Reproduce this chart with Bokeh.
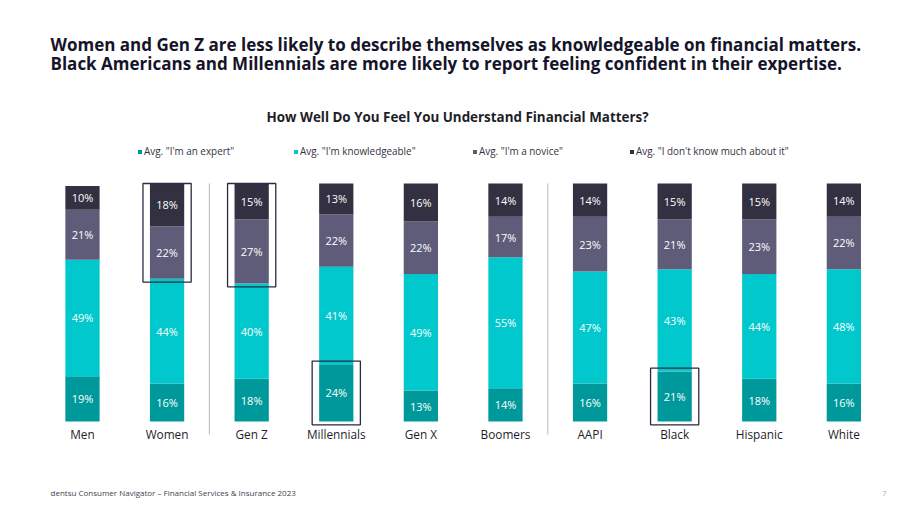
import numpy as np
from bokeh.plotting import figure
from bokeh.models import ColumnDataSource, Range1d, Label, Legend, LegendItem
from bokeh.core.properties import value
from bokeh.embed import file_html
from bokeh.resources import INLINE

# ---- data -------------------------------------------------------------
categories = ["Men", "Women", "Gen Z", "Millennials", "Gen X", "Boomers",
              "AAPI", "Black", "Hispanic", "White"]
expert = [19, 16, 18, 24, 13, 14, 16, 21, 18, 16]
knowledgeable = [49, 44, 40, 41, 49, 55, 47, 43, 44, 48]
novice = [21, 22, 27, 22, 22, 17, 23, 21, 23, 22]
dont_know = [10, 18, 15, 13, 16, 14, 14, 15, 15, 14]

series_names = ['Avg. "I\'m an expert"', 'Avg. "I\'m knowledgeable"',
                'Avg. "I\'m a novice"', 'Avg. "I don\'t know much about it"']
series_keys = ["expert", "knowledgeable", "novice", "dont_know"]
colors = ["#00999B", "#00C8CD", "#5E5C79", "#323041"]

# group dividers sit after these category positions
group_breaks = [1, 5]

# highlighted cells: (category, first series index, last series index)
highlights = [("Women", 2, 3), ("Gen Z", 2, 3), ("Millennials", 0, 0), ("Black", 0, 0)]

title_lines = [
    "Women and Gen Z are less likely to describe themselves as knowledgeable on financial matters.",
    "Black Americans and Millennials are more likely to report feeling confident in their expertise.",
]
subtitle = "How Well Do You Feel You Understand Financial Matters?"
footer = "dentsu Consumer Navigator \u2013 Financial Services & Insurance  2023"
page_no = "7"

# ---- figure -----------------------------------------------------------
W, H = 920, 518
FONT = "Open Sans"

x = np.arange(len(categories), dtype=float)
data = dict(x=x, cat=categories, expert=expert, knowledgeable=knowledgeable,
            novice=novice, dont_know=dont_know)
source = ColumnDataSource(data)

p = figure(width=W, height=H, output_backend="svg", toolbar_location=None,
           x_range=Range1d(-0.969, 9.906), y_range=Range1d(-40.76, 176.89),
           x_axis_location=None, y_axis_location=None,
           min_border=0, outline_line_color=None, background_fill_color="white")
p.xgrid.visible = False
p.ygrid.visible = False

renderers = p.vbar_stack(series_keys, x="x", width=0.405, color=colors,
                         line_color=None, source=source)

# value labels at segment centres
vals = np.array([expert, knowledgeable, novice, dont_know], dtype=float)
tops = np.cumsum(vals, axis=0)
bottoms = tops - vals
lab = ColumnDataSource(dict(
    x=np.tile(x, 4),
    y=((tops + bottoms) / 2).ravel(),
    t=[f"{int(v)}%" for v in vals.ravel()],
))
p.text(x="x", y="y", text="t", source=lab, text_color="white",
       text_font=value(FONT), text_font_size="11px",
       text_align="center", text_baseline="middle")

# category labels
p.text(x="x", y=-5.2, text="cat", source=source, text_color="#1E1E28",
       text_font=value(FONT), text_font_size="11.8px",
       text_align="center", text_baseline="middle")

# group dividers
bx = [b + 0.5 for b in group_breaks]
p.segment(x0=bx, x1=bx, y0=[-5.5] * len(bx), y1=[100] * len(bx),
          line_color="#B8B8BE", line_width=1)

# highlight boxes
hl_l, hl_r, hl_b, hl_t = [], [], [], []
for cat, s0, s1 in highlights:
    i = categories.index(cat)
    hl_l.append(x[i] - 0.285)
    hl_r.append(x[i] + 0.285)
    hl_b.append(bottoms[s0, i] - 1.4)
    hl_t.append(min(tops[s1, i] + 1.4, 100))
p.quad(left=hl_l, right=hl_r, bottom=hl_b, top=hl_t, fill_color=None,
       line_color="#2A2940", line_width=1.3)

# legend, one entry per series laid out in a row
legend_x = [137, 293, 472, 629]
for r, name, lx in zip(renderers, series_names, legend_x):
    lg = Legend(items=[LegendItem(label=name, renderers=[r])],
                location=(lx, 360), orientation="horizontal",
                glyph_width=5, glyph_height=5, label_standoff=2,
                label_height=10, label_text_font=FONT,
                label_text_font_size="9.9px", label_text_color="#333340",
                padding=0, margin=0, border_line_color=None,
                background_fill_alpha=0)
    p.add_layout(lg, "center")

# headline, subtitle and footer
for k, line in enumerate(title_lines):
    p.add_layout(Label(x=50, y=H - 44 - 19 * k, x_units="screen", y_units="screen",
                       text=line, text_font=FONT, text_font_style="bold",
                       text_font_size="17px", text_color="#15142A",
                       text_baseline="middle"))
p.add_layout(Label(x=457, y=H - 116, x_units="screen", y_units="screen",
                   text=subtitle, text_font=FONT, text_font_style="bold",
                   text_font_size="13.4px", text_color="#1E1E28",
                   text_align="center", text_baseline="middle"))
p.add_layout(Label(x=50, y=H - 492, x_units="screen", y_units="screen",
                   text=footer, text_font=FONT, text_font_size="8px",
                   text_color="#444450", text_baseline="middle"))
p.add_layout(Label(x=884, y=H - 493, x_units="screen", y_units="screen",
                   text=page_no, text_font=FONT, text_font_size="7.5px",
                   text_color="#AAAAAA", text_align="center", text_baseline="middle"))

open("out.html", "w").write(file_html(p, INLINE))
